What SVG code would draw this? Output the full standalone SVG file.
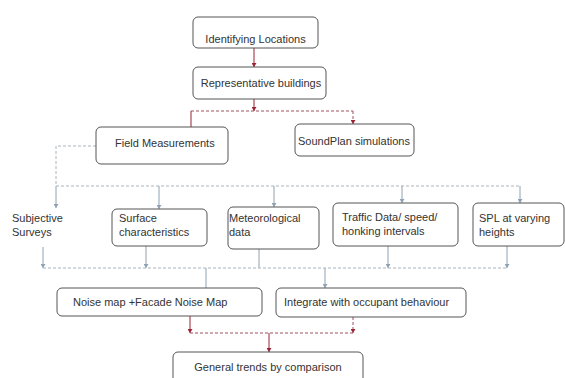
<svg xmlns="http://www.w3.org/2000/svg" width="565" height="378" viewBox="0 0 565 378">
<style>
.box{fill:#fff;stroke:#555;stroke-width:1}
text{font-family:"Liberation Sans",Arial,sans-serif;font-size:11px;fill:#333}
.r{stroke:#9b2335;stroke-width:1;fill:none}
.rd{stroke:#a05060;stroke-width:1;fill:none;stroke-dasharray:3 2}
.g{stroke:#8ea2b4;stroke-width:1;fill:none}
.gd{stroke:#aab4be;stroke-width:1;fill:none;stroke-dasharray:3 2}
</style>
<defs>
<marker id="ar" markerWidth="5" markerHeight="5" refX="4" refY="2.5" orient="auto" markerUnits="userSpaceOnUse"><path d="M0,0 L4,2.5 L0,5 z" fill="#9b2335"/></marker>
<marker id="ag" markerWidth="5" markerHeight="5" refX="4" refY="2.5" orient="auto" markerUnits="userSpaceOnUse"><path d="M0,0 L4,2.5 L0,5 z" fill="#8ea2b4"/></marker>
</defs>
<rect width="565" height="378" fill="#fff"/>
<g id="connectors">
<line class="r" x1="254" y1="48" x2="254" y2="67" marker-end="url(#ar)"/>
<line class="r" x1="254" y1="99" x2="254" y2="111" marker-end="url(#ar)"/>
<line class="rd" x1="191" y1="111" x2="353" y2="111"/>
<line class="r" x1="191" y1="111" x2="191" y2="127"/>
<line class="rd" x1="353" y1="111" x2="353" y2="124" marker-end="url(#ar)"/>
<polyline class="gd" points="96,146 56,146 56,186"/>
<line class="gd" x1="56" y1="186" x2="520" y2="186"/>
<line class="g" x1="56" y1="186" x2="56" y2="208" marker-end="url(#ag)"/>
<line class="g" x1="159" y1="186" x2="159" y2="209" marker-end="url(#ag)"/>
<line class="g" x1="274" y1="186" x2="274" y2="207" marker-end="url(#ag)"/>
<line class="g" x1="402" y1="186" x2="402" y2="203" marker-end="url(#ag)"/>
<line class="g" x1="520" y1="186" x2="520" y2="203" marker-end="url(#ag)"/>
<line class="g" x1="43" y1="247" x2="43" y2="268" marker-end="url(#ag)"/>
<line class="g" x1="146" y1="246" x2="146" y2="268" marker-end="url(#ag)"/>
<line class="g" x1="259" y1="249" x2="259" y2="268"/>
<line class="g" x1="388" y1="246" x2="388" y2="268" marker-end="url(#ag)"/>
<line class="g" x1="507" y1="246" x2="507" y2="268" marker-end="url(#ag)"/>
<line class="gd" x1="43" y1="268" x2="507" y2="268"/>
<line class="g" x1="206" y1="268" x2="206" y2="288"/>
<line class="g" x1="325" y1="268" x2="325" y2="288" marker-end="url(#ag)"/>
<line class="r" x1="190" y1="316" x2="190" y2="333" marker-end="url(#ar)"/>
<line class="rd" x1="353" y1="317" x2="353" y2="333" marker-end="url(#ar)"/>
<line class="rd" x1="190" y1="333" x2="353" y2="333"/>
<line class="r" x1="269" y1="333" x2="269" y2="352" marker-end="url(#ar)"/>
</g>
<g id="n-identifying"><rect class="box" x="193" y="17" width="125" height="31" rx="5"/><text x="255.5" y="43" text-anchor="middle">Identifying Locations</text></g>
<g id="n-representative"><rect class="box" x="193" y="67" width="133" height="32" rx="5"/><text x="261" y="87" text-anchor="middle">Representative buildings</text></g>
<g id="n-field"><rect class="box" x="96" y="127" width="132" height="37" rx="5"/><text x="115" y="147">Field Measurements</text></g>
<g id="n-soundplan"><rect class="box" x="295" y="124" width="119" height="32" rx="5"/><text x="298" y="145">SoundPlan simulations</text></g>
<g id="n-subjective"><text x="12" y="222">Subjective</text><text x="12" y="236">Surveys</text></g>
<g id="n-surface"><rect class="box" x="112" y="209" width="95" height="37" rx="5"/><text x="119" y="222">Surface</text><text x="119" y="236">characteristics</text></g>
<g id="n-meteo"><rect class="box" x="228" y="207" width="91" height="42" rx="5"/><text x="229" y="222">Meteorological</text><text x="229" y="236">data</text></g>
<g id="n-traffic"><rect class="box" x="333" y="203" width="125" height="43" rx="5"/><text x="342" y="221">Traffic Data/ speed/</text><text x="342" y="235">honking intervals</text></g>
<g id="n-spl"><rect class="box" x="473" y="203" width="91" height="43" rx="5"/><text x="479" y="222">SPL at varying</text><text x="479" y="236">heights</text></g>
<g id="n-noisemap"><rect class="box" x="57" y="288" width="205" height="28" rx="5"/><text x="73" y="306">Noise map +Facade Noise Map</text></g>
<g id="n-integrate"><rect class="box" x="276" y="288" width="190" height="29" rx="5"/><text x="284" y="306">Integrate with occupant behaviour</text></g>
<g id="n-general"><rect class="box" x="173" y="352" width="190" height="35" rx="5"/><text x="268" y="371" text-anchor="middle">General trends by comparison</text></g>
</svg>
